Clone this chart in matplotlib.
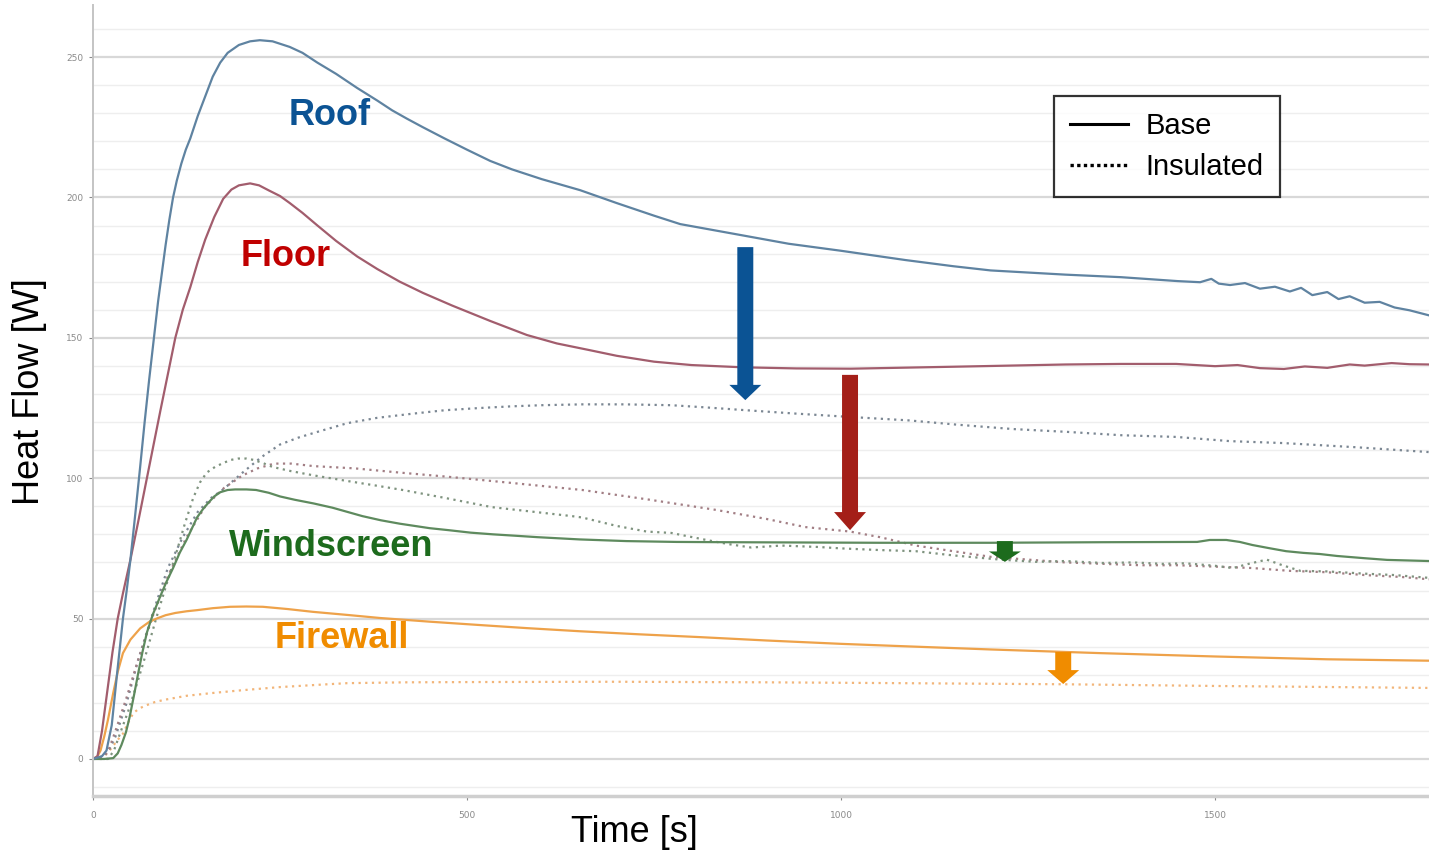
import matplotlib
matplotlib.use("Agg")
import matplotlib.pyplot as plt
from matplotlib.lines import Line2D

# ---- data (time in s, heat flow in W) ----
roof_base_t = [0, 12, 18, 25, 32, 40, 45, 50, 56, 63, 69, 75, 81, 87, 92, 97, 102, 107, 112, 118, 124, 130, 140, 150,
               160, 170, 180, 195, 210, 223, 240, 263, 280, 300, 325, 353, 380, 400, 420, 441, 470, 500, 531, 560,
               600, 651, 700, 750, 785, 868, 930, 1000, 1086, 1150, 1200, 1300, 1374, 1450, 1480, 1495, 1505, 1520,
               1540, 1560, 1580, 1600, 1615, 1630, 1650, 1665, 1680, 1700, 1720, 1740, 1760, 1786]
roof_base = [0, 1, 3, 12, 30, 50, 60, 71, 86, 104, 120, 135, 149, 163, 173, 183, 192, 200, 206, 212, 217, 221, 229,
             236, 243, 248, 251.5, 254.3, 255.6, 256, 255.6, 253.6, 251.5, 248, 244, 239, 234.5, 231, 228, 225, 221,
             217, 213, 210, 206.5, 202.6, 198, 193.5, 190.5, 186.5, 183.5, 181, 177.7, 175.5, 174, 172.5, 171.6,
             170.2, 169.8, 171, 169.3, 168.8, 169.5, 167.5, 168.2, 166.5, 167.8, 165.2, 166.3, 163.8, 164.8, 162.5,
             162.8, 160.8, 159.8, 158]

floor_base_t = [0, 6, 12, 19, 26, 33, 40, 50, 60, 72, 81, 90, 100, 110, 120, 130, 140, 150, 162, 174, 185, 195, 210,
                222, 235, 250, 263, 280, 300, 325, 353, 380, 410, 441, 480, 531, 580, 620, 664, 700, 750, 800, 868,
                940, 1013, 1150, 1300, 1374, 1448, 1500, 1530, 1560, 1592, 1620, 1650, 1680, 1700, 1736, 1760, 1786]
floor_base = [0, 1, 10, 24, 38, 50, 59, 71, 84, 100, 112, 124, 137, 150, 160, 168, 177, 185, 193, 199.5, 202.8,
              204.3, 205, 204.3, 202.5, 200.5, 198, 194.5, 190, 184.5, 179, 174.5, 170, 166, 161.5, 156, 151, 148,
              145.6, 143.6, 141.5, 140.3, 139.5, 139.1, 139, 139.7, 140.5, 140.7, 140.7, 139.9, 140.3, 139.2, 138.9,
              139.8, 139.3, 140.5, 140.1, 141, 140.6, 140.5]

wind_base_t = [0, 15, 27, 33, 38, 44, 49, 55, 60, 66, 72, 80, 90, 98, 107, 116, 125, 132, 139, 147, 155, 162, 170,
               180, 190, 205, 218, 235, 250, 270, 295, 320, 340, 360, 385, 410, 430, 450, 475, 505, 535, 565, 594,
               650, 713, 780, 850, 1052, 1200, 1350, 1476, 1493, 1515, 1533, 1550, 1574, 1595, 1618, 1640, 1663,
               1700, 1730, 1786]
wind_base = [0, 0, 0.3, 2, 5, 9.5, 15, 23, 30, 38, 45, 51.5, 58, 63, 68, 73.5, 78, 82, 86, 89, 91.5, 93.5, 95,
             95.8, 96, 96, 95.8, 94.8, 93.5, 92.3, 91, 89.5, 88, 86.5, 85, 83.8, 83, 82.2, 81.5, 80.6, 80, 79.5, 79,
             78.2, 77.6, 77.3, 77.2, 77, 77, 77.2, 77.3, 78, 78, 77.3, 76.2, 75, 74, 73.4, 73, 72.3, 71.5, 70.9,
             70.5]

fire_base_t = [0, 5, 10, 15, 20, 27, 33, 40, 50, 63, 75, 85, 97, 110, 125, 139, 160, 183, 205, 227, 260, 294, 340,
               384, 450, 517, 580, 650, 730, 811, 900, 1000, 1079, 1200, 1346, 1500, 1650, 1786]
fire_base = [0, 0.5, 3, 8, 14, 23.5, 31, 37.7, 42.5, 46.5, 48.8, 50, 51.2, 52, 52.6, 53, 53.7, 54.2, 54.3, 54.2,
             53.4, 52.4, 51.3, 50.2, 48.9, 47.7, 46.6, 45.5, 44.4, 43.4, 42.2, 41, 40.2, 39, 37.7, 36.5, 35.5, 35]

roof_ins_t = [0, 15, 22, 30, 45, 60, 80, 100, 120, 140, 158, 174, 200, 225, 250, 275, 300, 340, 380, 428, 470, 517,
              560, 600, 654, 710, 773, 820, 868, 940, 1013, 1090, 1158, 1230, 1302, 1375, 1448, 1520, 1592, 1690,
              1786]
roof_ins = [0, 1, 3.5, 8, 20, 35, 52, 68, 79, 88, 93, 96, 102, 107.5, 112, 114.5, 116.5, 119.6, 121.5, 123, 124.2,
            125, 125.6, 126, 126.3, 126.3, 126, 125.2, 124.3, 123, 121.8, 120.6, 119, 117.5, 116.5, 115.3, 114.7,
            113.2, 112.5, 111, 109.3]

floor_ins_t = [0, 15, 22, 30, 45, 60, 80, 100, 125, 150, 175, 200, 220, 242, 265, 295, 350, 410, 475, 560, 654, 740,
               833, 900, 952, 1012, 1052, 1100, 1150, 1200, 1250, 1300, 1350, 1400, 1450, 1500, 1550, 1600, 1650,
               1700, 1750, 1786]
floor_ins = [0, 1, 4, 10, 22, 35, 51, 65, 79, 90, 96.5, 101, 103.5, 105.2, 105.2, 104.3, 103.5, 102, 100.5, 98.3,
             95.8, 92.5, 88.7, 85.5, 82.6, 81, 79, 76, 74, 72, 71, 70, 69.5, 69, 69, 68.5, 68, 67, 66.5, 65.5, 64.8,
             64]

wind_ins_t = [0, 20, 28, 36, 47, 59, 72, 85, 98, 112, 123, 134, 143, 152, 163, 174, 184, 194, 205, 215, 228, 240,
              265, 295, 340, 380, 414, 470, 533, 590, 640, 654, 700, 740, 773, 820, 850, 880, 920, 970, 1000, 1052,
              1100, 1150, 1213, 1260, 1300, 1350, 1390, 1430, 1460, 1500, 1524, 1545, 1569, 1590, 1614, 1650, 1700,
              1740, 1786]
wind_ins = [0, 0, 3, 9, 17, 27, 38.5, 50.6, 62, 74, 84, 93, 98.5, 102, 104, 105.4, 106.5, 107, 107, 106.5, 105.3,
            104, 102.5, 101, 99, 97.3, 95.8, 93, 89.7, 88, 86.5, 86, 83, 81, 80.5, 78, 76.5, 75.3, 76, 75.5, 75,
            74.4, 74, 72.5, 71, 70.2, 70.5, 69.8, 70, 69.5, 69.7, 68.8, 68, 69.5, 71, 69, 67, 66.8, 66, 65.5, 64.5]

fire_ins_t = [0, 10, 15, 20, 25, 32, 40, 47, 54, 62, 70, 82, 94, 125, 160, 200, 250, 300, 340, 420, 517, 700, 900,
              1079, 1300, 1500, 1786]
fire_ins = [0, 0.3, 1, 2.3, 4, 6.5, 9, 13, 16.4, 18, 19, 20.2, 21, 22.5, 23.5, 24.5, 25.6, 26.4, 27, 27.3, 27.4,
            27.5, 27.3, 27, 26.6, 26, 25.3]

label_font = "Liberation Sans"

fig = plt.figure(figsize=(14.29, 8.51), dpi=100)
ax = fig.add_axes([0.0651, 0.0646, 0.9349, 0.9294])

# grid
for y in range(-10, 270, 10):
    if y % 50 == 0:
        ax.axhline(y, color="#d8d8d8", lw=1.6, zorder=0)
    else:
        ax.axhline(y, color="#eeeeee", lw=1.0, zorder=0)

# insulated (dotted)
dots = (0, (1, 2))
ax.plot(fire_ins_t, fire_ins, color="#f2b579", lw=1.6, ls=dots)
ax.plot(roof_ins_t, roof_ins, color="#7b8793", lw=1.6, ls=dots)
ax.plot(floor_ins_t, floor_ins, color="#a27e84", lw=1.6, ls=dots)
ax.plot(wind_ins_t, wind_ins, color="#7f937f", lw=1.6, ls=dots)

# base (solid)
ax.plot(fire_base_t, fire_base, color="#eea24a", lw=1.6)
ax.plot(wind_base_t, wind_base, color="#5e8a5e", lw=1.6)
ax.plot(floor_base_t, floor_base, color="#a25d6d", lw=1.6)
ax.plot(roof_base_t, roof_base, color="#5f83a1", lw=1.6)

ax.set_xlim(0, 1786)
ax.set_ylim(-13.2, 268.5)
ax.set_xticks([0, 500, 1000, 1500])
ax.set_yticks([0, 50, 100, 150, 200, 250])
ax.tick_params(axis="both", labelsize=6.5, colors="#8a8a8a", length=3, width=0.8)
ax.tick_params(axis="x", pad=8)
ax.tick_params(axis="y", pad=4)
for s in ["top", "right"]:
    ax.spines[s].set_visible(False)
ax.spines["left"].set_color("#c4c4c4")
ax.spines["left"].set_linewidth(1.4)
ax.spines["bottom"].set_color("#cfcfcf")
ax.spines["bottom"].set_linewidth(2.5)

# axis titles
fig.text(0.0203, 0.54, "Heat Flow [W]", rotation=90, ha="center", va="center",
         fontsize=26, family=label_font)
fig.text(0.4437, 0.022, "Time [s]", ha="center", va="center", fontsize=26, family=label_font)

# series labels
ax.text(317, 229.3, "Roof", color="#0b5394", fontsize=26, fontweight="bold", family=label_font,
        ha="center", va="center")
ax.text(257, 179, "Floor", color="#c00000", fontsize=26, fontweight="bold", family=label_font,
        ha="center", va="center")
ax.text(318, 75.5, "Windscreen", color="#1d6b1d", fontsize=26, fontweight="bold", family=label_font,
        ha="center", va="center")
ax.text(333, 43, "Firewall", color="#f08c00", fontsize=26, fontweight="bold", family=label_font,
        ha="center", va="center")


# reduction arrows
def down_arrow(x, top, tip, color, head_len=1.1):
    ax.annotate("", xy=(x, tip), xytext=(x, top),
                arrowprops=dict(arrowstyle="simple,head_length=%g,head_width=2.3,tail_width=1.15" % head_len,
                                mutation_scale=10, color=color, shrinkA=0, shrinkB=0, lw=0))


down_arrow(872, 182.3, 127.8, "#0b5394")
down_arrow(1012, 136.8, 81.5, "#a41f18", head_len=1.3)
down_arrow(1219, 77.6, 70.2, "#1d6b1d", head_len=0.75)
down_arrow(1297, 38.1, 26.7, "#f08c00", head_len=1.0)

handles = [Line2D([], [], color="black", lw=2.2),
           Line2D([], [], color="black", lw=2.4, ls=(0, (1, 1)))]
leg = ax.legend(handles, ["Base", "Insulated"], loc="upper left", bbox_to_anchor=(0.719, 0.885),
                prop={"family": label_font, "size": 21}, frameon=True, fancybox=False,
                edgecolor="black", handlelength=2.0, handletextpad=0.6, labelspacing=0.45,
                borderpad=0.55, borderaxespad=0)
leg.get_frame().set_linewidth(1.6)

fig.savefig("out.png", dpi=100, facecolor="white")
